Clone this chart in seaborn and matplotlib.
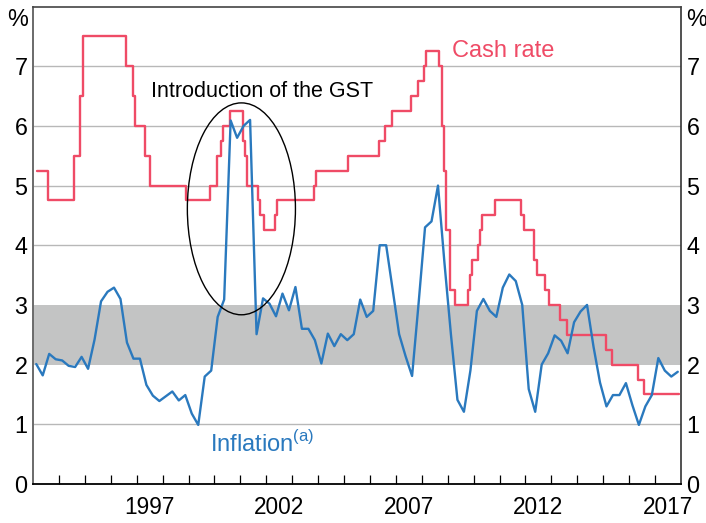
import matplotlib
matplotlib.use("Agg")
import matplotlib.pyplot as plt
import seaborn as sns
import pandas as pd
import numpy as np
from matplotlib.patches import Ellipse
from matplotlib.ticker import FixedLocator, NullFormatter, FixedFormatter

# ---------------- data ----------------
inflation_start = "1993Q1"
inflation = [2.01, 1.82, 2.18, 2.09, 2.07, 1.98, 1.96, 2.13, 1.93, 2.42,
             3.06, 3.22, 3.29, 3.10, 2.37, 2.10, 2.10, 1.66, 1.48, 1.39,
             1.47, 1.55, 1.40, 1.49, 1.18, 0.99, 1.80, 1.90, 2.80, 3.09,
             6.09, 5.80, 6.00, 6.10, 2.51, 3.11, 3.02, 2.81, 3.19, 2.91,
             3.30, 2.60, 2.60, 2.41, 2.02, 2.52, 2.31, 2.51, 2.41, 2.51,
             3.09, 2.80, 2.90, 4.00, 4.00, 3.26, 2.51, 2.14, 1.81, 3.02,
             4.30, 4.40, 5.00, 3.70, 2.50, 1.41, 1.21, 1.90, 2.90, 3.10,
             2.90, 2.80, 3.29, 3.51, 3.40, 3.00, 1.59, 1.21, 2.00, 2.19,
             2.49, 2.40, 2.19, 2.71, 2.89, 3.00, 2.30, 1.70, 1.30, 1.49,
             1.49, 1.69, 1.32, 0.99, 1.30, 1.49, 2.11, 1.90, 1.80, 1.88]

cash_dates = ["1993-03-01", "1993-07-30", "1994-07-27", "1994-10-24", "1994-12-01",
              "1996-07-31", "1996-11-06", "1996-12-11", "1997-05-01", "1997-07-01",
              "1998-12-02", "1999-11-03", "2000-02-02", "2000-04-05", "2000-05-03",
              "2000-08-02", "2001-02-07", "2001-03-07", "2001-04-04", "2001-09-05",
              "2001-10-03", "2001-12-05", "2002-05-08", "2002-06-05", "2003-11-05",
              "2003-12-03", "2005-03-02", "2006-05-03", "2006-08-02", "2006-11-08",
              "2007-08-08", "2007-11-07", "2008-02-06", "2008-03-05", "2008-09-03",
              "2008-10-08", "2008-11-05", "2008-12-03", "2009-02-04", "2009-04-08",
              "2009-10-07", "2009-11-04", "2009-12-02", "2010-03-03", "2010-04-07",
              "2010-05-05", "2010-11-03", "2011-11-02", "2011-12-07", "2012-05-02",
              "2012-06-06", "2012-10-03", "2012-12-05", "2013-05-08", "2013-08-07",
              "2015-02-04", "2015-05-06", "2016-05-04", "2016-08-03", "2017-11-30"]
cash_rates = [5.25, 4.75, 5.5, 6.5, 7.5, 7.0, 6.5, 6.0, 5.5, 5.0,
              4.75, 5.0, 5.5, 5.75, 6.0, 6.25, 5.75, 5.5, 5.0, 4.75,
              4.5, 4.25, 4.5, 4.75, 5.0, 5.25, 5.5, 5.75, 6.0, 6.25,
              6.5, 6.75, 7.0, 7.25, 7.0, 6.0, 5.25, 4.25, 3.25, 3.0,
              3.25, 3.5, 3.75, 4.0, 4.25, 4.5, 4.75, 4.5, 4.25, 3.75,
              3.5, 3.25, 3.0, 2.75, 2.5, 2.25, 2.0, 1.75, 1.5, 1.5]

target_band = (2, 3)
y_ticks = [0, 1, 2, 3, 4, 5, 6, 7]
x_labels = ["1997", "2002", "2007", "2012", "2017"]

# ---------------- helpers ----------------
def dec_year(ts):
    ts = pd.Timestamp(ts)
    start = pd.Timestamp(year=ts.year, month=1, day=1)
    end = pd.Timestamp(year=ts.year + 1, month=1, day=1)
    return ts.year + (ts - start) / (end - start)

quarters = pd.period_range(inflation_start, periods=len(inflation), freq="Q")
infl_df = pd.DataFrame({
    "x": [q.year + (q.quarter - 1) * 0.25 + 0.125 for q in quarters],
    "value": inflation,
})
cash_df = pd.DataFrame({
    "x": [dec_year(d) for d in cash_dates],
    "value": cash_rates,
})

# ---------------- style ----------------
sns.set_theme(style="white")
plt.rcParams["font.family"] = ["Liberation Sans", "DejaVu Sans"]

RED = "#ef4b66"
BLUE = "#2a79be"

W, H = 706, 523
fig = plt.figure(figsize=(W / 100, H / 100), dpi=100)
L, R, B, T = 33, 681, 484, 6.5
ax = fig.add_axes([L / W, 1 - B / H, (R - L) / W, (B - T) / H])

ax.set_xlim(1993, 2018)
ax.set_ylim(0, 8)

# band + grid
ax.axhspan(*target_band, color="#c3c4c4", lw=0, zorder=1)
for yv in [1, 4, 5, 6, 7]:
    ax.axhline(yv, color="#b8b8b8", lw=1.0, zorder=0.5)

sns.lineplot(data=cash_df, x="x", y="value", ax=ax, color=RED, lw=1.7,
             drawstyle="steps-post", estimator=None, sort=False, zorder=3)
sns.lineplot(data=infl_df, x="x", y="value", ax=ax, color=BLUE, lw=1.7,
             estimator=None, sort=False, zorder=4)

ax.set_xlabel("")
ax.set_ylabel("")

# y ticks both sides
ax.set_yticks(y_ticks)
ax.set_yticklabels([str(v) for v in y_ticks])
ax.tick_params(axis="y", which="both", length=0, labelsize=16.8, pad=4,
               left=True, right=True, labelleft=True, labelright=True,
               labelcolor="black")

# x ticks: year boundaries (major, inside), labels at mid-year (minor)
years = np.arange(1994, 2018)
ax.xaxis.set_major_locator(FixedLocator(years))
ax.xaxis.set_major_formatter(NullFormatter())
ax.xaxis.set_minor_locator(FixedLocator([int(s) + 0.5 for s in x_labels]))
ax.xaxis.set_minor_formatter(FixedFormatter(x_labels))
ax.tick_params(axis="x", which="major", direction="in", length=6.5, width=0.9,
               color="black", bottom=True)
ax.tick_params(axis="x", which="minor", length=0, labelsize=16.3, pad=8.5,
               labelcolor="black", bottom=True)

for side in ["left", "right", "top", "bottom"]:
    ax.spines[side].set_visible(True)
ax.spines["left"].set_color("#6a6a6a")
ax.spines["left"].set_linewidth(1.4)
ax.spines["right"].set_color("#333333")
ax.spines["right"].set_linewidth(1.2)
ax.spines["top"].set_color("#444444")
ax.spines["top"].set_linewidth(1.2)
ax.spines["bottom"].set_color("black")
ax.spines["bottom"].set_linewidth(1.3)

# % labels
ax.text(-0.008, 0.959, "%", transform=ax.transAxes, ha="right", va="baseline",
        fontsize=16.8, color="black")
ax.text(1.008, 0.959, "%", transform=ax.transAxes, ha="left", va="baseline",
        fontsize=16.8, color="black")

# annotations
ax.text(2009.15, 7.15, "Cash rate", color=RED, fontsize=17, ha="left", va="baseline")
ax.text(1999.83, 0.54, r"Inflation$^{\mathregular{(a)}}$", color=BLUE, fontsize=17,
        ha="left", va="baseline")
ax.text(1997.54, 6.49, "Introduction of the GST", color="black", fontsize=15.5,
        ha="left", va="baseline")
ax.add_patch(Ellipse((2001.04, 4.61), width=4.17, height=3.55, fill=False,
                     edgecolor="black", lw=1.0, zorder=5))

fig.savefig("out.png", dpi=100)
